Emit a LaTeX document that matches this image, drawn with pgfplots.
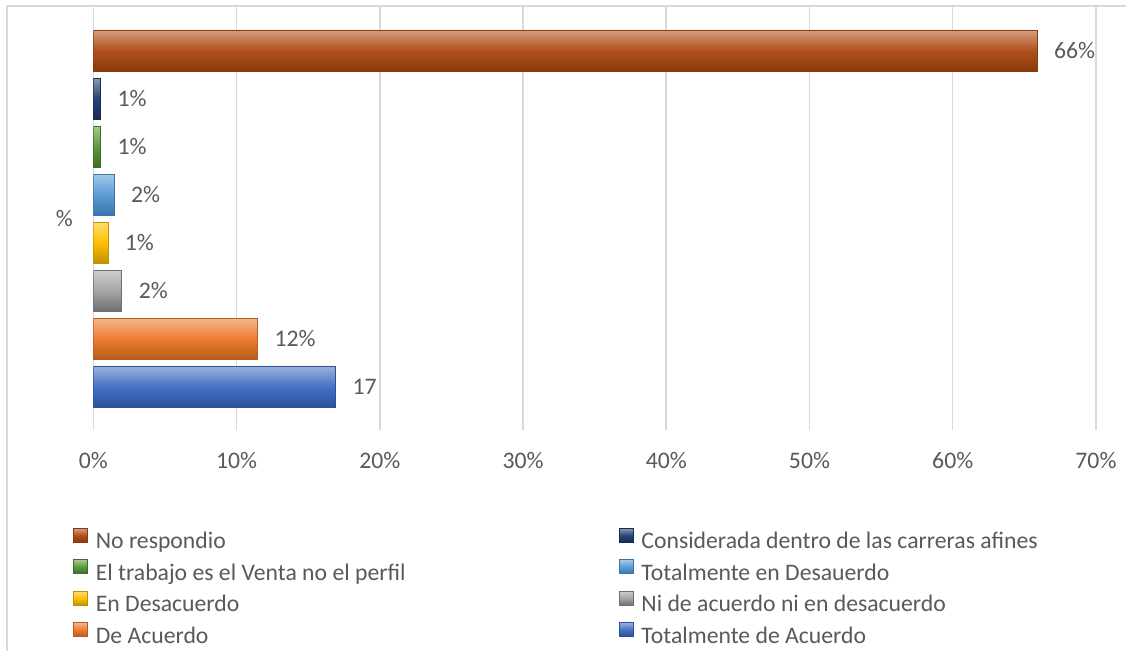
\documentclass[border=0pt]{standalone}
\usepackage{fontspec}
\setmainfont{Carlito}
\usepackage{pgfplots}
\pgfplotsset{compat=1.18}
\definecolor{tg}{HTML}{595959}
\definecolor{gridc}{HTML}{D9D9D9}
\definecolor{cBrown}{HTML}{B0501A}
\definecolor{cBrownD}{HTML}{8A3A0A}
\definecolor{cNavy}{HTML}{264478}
\definecolor{cNavyD}{HTML}{172B4E}
\definecolor{cGreen}{HTML}{5A9A3C}
\definecolor{cGreenD}{HTML}{3E6B26}
\definecolor{cLBlue}{HTML}{5B9BD5}
\definecolor{cLBlueD}{HTML}{3A75AA}
\definecolor{cYellow}{HTML}{FFC000}
\definecolor{cYellowD}{HTML}{C09000}
\definecolor{cGray}{HTML}{A5A5A5}
\definecolor{cGrayD}{HTML}{6E6E6E}
\definecolor{cOrange}{HTML}{ED7D31}
\definecolor{cOrangeD}{HTML}{B85A1A}
\definecolor{cBlue}{HTML}{4472C4}
\definecolor{cBlueD}{HTML}{2C5196}
\pgfplotsset{
  bev/.style n args={2}{draw=#2, line width=1pt, top color=#1!55!white, bottom color=#2, middle color=#1},
}
\begin{document}
\begin{tikzpicture}[x=1pt,y=1pt, font=\fontsize{23.7}{28}\selectfont]
\useasboundingbox (0,0) rectangle (1126,651);
\draw[gridc, line width=2pt] (7,0) -- (7,645) -- (1126,645);
\begin{axis}[
  at={(93.3pt,221pt)}, anchor=south west,
  scale only axis, width=1002.7pt, height=424pt,
  xmin=0, xmax=70, ymin=-0.895, ymax=7.926,
  axis line style={draw=none},
  major tick length=0pt,
  xtick={0,10,...,70},
  xmajorgrids, grid style={gridc, line width=1.5pt},
  /pgf/number format/assume math mode=true,
  xticklabel={\pgfmathprintnumber{\tick}\%},
  xticklabel style={yshift=-19pt, text=tg},
  ytick={3.5}, yticklabels={\%},
  yticklabel style={xshift=-17pt, text=tg},
  xbar, bar width=41pt, bar shift=0pt,
  nodes near coords, point meta=explicit symbolic,
  every node near coord/.append style={anchor=west, xshift=13pt, text=tg},
  legend columns=2, legend cell align=left,
  legend style={at={(-0.0202,-0.2312)}, anchor=north west, draw=none, fill=none,
    inner sep=0pt, outer sep=0pt, row sep=7.5pt, column sep=0pt,
    nodes={inner sep=0pt, text height=16pt, text depth=3pt, text=tg},
    /tikz/every odd column/.append style={column sep=8pt},
    /tikz/every even column/.append style={column sep=213pt}},
  legend image code/.code={\draw[#1, line width=0.8pt] (0pt,0pt) rectangle (14pt,14pt);},
]
\addplot[bev={cBrown}{cBrownD}] coordinates {(65.9,7) [66\%]};
\addlegendentry{No respondio}
\addplot[bev={cNavy}{cNavyD}] coordinates {(0.53,6) [1\%]};
\addlegendentry{Considerada dentro de las carreras afines}
\addplot[bev={cGreen}{cGreenD}] coordinates {(0.53,5) [1\%]};
\addlegendentry{El trabajo es el Venta no el perfil}
\addplot[bev={cLBlue}{cLBlueD}] coordinates {(1.47,4) [2\%]};
\addlegendentry{Totalmente en Desauerdo}
\addplot[bev={cYellow}{cYellowD}] coordinates {(1.03,3) [1\%]};
\addlegendentry{En Desacuerdo}
\addplot[bev={cGray}{cGrayD}] coordinates {(2.0,2) [2\%]};
\addlegendentry{Ni de acuerdo ni en desacuerdo}
\addplot[bev={cOrange}{cOrangeD}] coordinates {(11.48,1) [12\%]};
\addlegendentry{De Acuerdo}
\addplot[bev={cBlue}{cBlueD}] coordinates {(16.93,0) [17]};
\addlegendentry{Totalmente de Acuerdo}
\end{axis}
\end{tikzpicture}
\end{document}
